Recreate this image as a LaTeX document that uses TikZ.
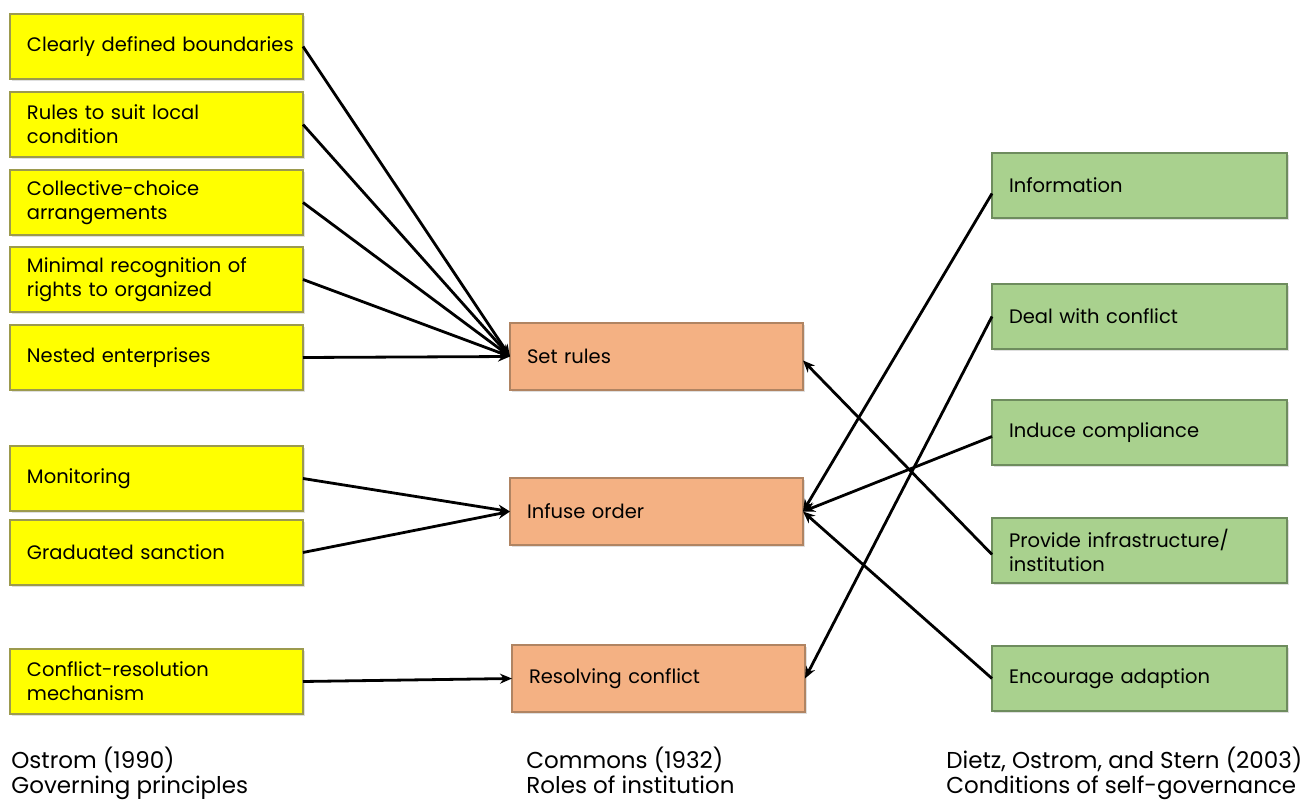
\documentclass[tikz,border=0pt]{standalone}
\usepackage{fontspec}
\setmainfont{Poppins}
\usetikzlibrary{arrows.meta,shadows}
\definecolor{ylwFill}{HTML}{FFFF00}
\definecolor{ylwLine}{HTML}{9C9A4E}
\definecolor{orgFill}{HTML}{F4B183}
\definecolor{orgLine}{HTML}{B08462}
\definecolor{grnFill}{HTML}{A9D18E}
\definecolor{grnLine}{HTML}{6E8C5E}
\tikzset{
	box/.style={draw, line width=1.5pt, anchor=north west, outer sep=0,
		minimum width=293pt, minimum height=65pt, text width=259pt,
		inner xsep=17pt, align=left,
		font=\fontsize{19.5}{24}\selectfont,
		drop shadow={shadow xshift=1.5pt, shadow yshift=-2pt, opacity=0.25}},
	ylw/.style={box, fill=ylwFill, draw=ylwLine},
	org/.style={box, fill=orgFill, draw=orgLine, minimum height=67pt},
	grn/.style={box, fill=grnFill, draw=grnLine, minimum width=295pt, text width=261pt},
	caption/.style={anchor=north west, align=left, inner sep=0,
		font=\fontsize{23}{25}\selectfont}
}

\begin{document}
\begin{tikzpicture}[x=1pt, y=-1pt, ->, >={Stealth[length=12pt,width=10pt]},
		line width=2.8pt]
	\useasboundingbox (0,0) rectangle (1310,805);
	% governing principles
	\node[ylw] (y1) at (10,14) {\mbox{Clearly defined boundaries}};
	\node[ylw] (y2) at (10,92) {Rules to suit local\\condition};
	\node[ylw] (y3) at (10,170) {Collective-choice\\arrangements};
	\node[ylw] (y4) at (10,247) {Minimal recognition of\\rights to organized};
	\node[ylw] (y5) at (10,325) {Nested enterprises};
	\node[ylw] (y6) at (10,446) {Monitoring};
	\node[ylw] (y7) at (10,520) {Graduated sanction};
	\node[ylw] (y8) at (10,649) {Conflict-resolution\\mechanism};
	% roles of institution
	\node[org] (o1) at (510,323) {Set rules};
	\node[org] (o2) at (510,478) {Infuse order};
	\node[org] (o3) at (512,645) {Resolving conflict};
	% conditions of self-governance
	\node[grn] (g1) at (992,153) {Information};
	\node[grn] (g2) at (992,284) {Deal with conflict};
	\node[grn] (g3) at (992,400) {Induce compliance};
	\node[grn] (g4) at (992,518) {Provide infrastructure/\\institution};
	\node[grn] (g5) at (992,646) {Encourage adaption};
	
	\node[caption] (c1) at (10,746) {Ostrom (1990)\\Governing principles};
	\node[caption] (c2) at (525,746) {Commons (1932)\\Roles of institution};
	\node[caption] (c3) at (945,746) {Dietz, Ostrom, and Stern (2003)\\Conditions of self-governance};
	
	\foreach \i in {1,...,5}
		\path (y\i.east) edge (o1.west);
	\path (y6.east) edge (o2.west);
	\path (y7.east) edge (o2.west);
	\path (y8.east) edge (o3.west);
	
	\path ([yshift=-8pt]g1.west) edge (o2.east);
	\path (g2.west) edge (o3.east);
	\path ([yshift=-4pt]g3.west) edge (o2.east);
	\path ([yshift=-4pt]g4.west) edge ([yshift=-4pt]o1.east);
	\path (g5.west) edge (o2.east);
\end{tikzpicture}
\end{document}
